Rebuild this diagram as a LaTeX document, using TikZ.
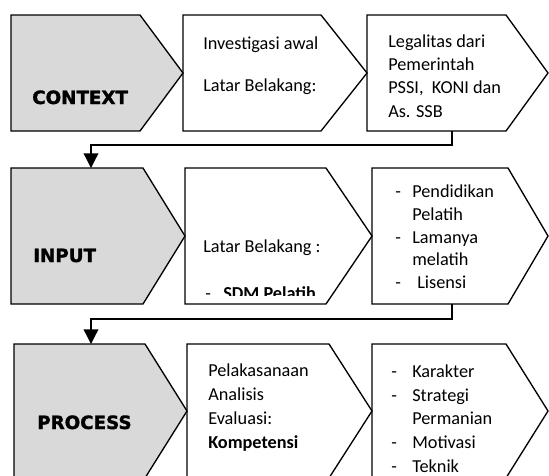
\documentclass[tikz,border=0pt]{standalone}
\usepackage{fontspec}
\setmainfont{Carlito}
\newfontfamily\blackfont{DejaVu Sans}[BoldFeatures={FakeBold=1.6}]
\usetikzlibrary{arrows.meta}
\definecolor{boxgray}{HTML}{D9D9D9}
\begin{document}
\begin{tikzpicture}[x=0.75pt,y=-0.75pt,
  shp/.style={draw=black, line width=1pt, line join=miter},
  grayshp/.style={shp, fill=boxgray},
  txt/.style={inner sep=0pt, anchor=base west, font=\fontsize{13.7}{17.3}\selectfont},
  head/.style={inner sep=0pt, anchor=base west, font=\blackfont\bfseries\fontsize{13.7}{17}\selectfont},
  conn/.style={line width=1pt, -{Triangle[length=11pt,width=11pt]}}]
\useasboundingbox (0,0) rectangle (549,475);
\clip (0,0) rectangle (549,475);
% Row 1
\draw[grayshp] (11,15) -- (140,15) -- (183,73) -- (140,131) -- (11,131) -- cycle;
\draw[shp] (183,15) -- (321,15) -- (367,73) -- (321,131) -- (183,131) -- cycle;
\draw[shp] (367,15) -- (506,15) -- (548,73) -- (506,131) -- (367,131) -- cycle;
\coordinate (r1out) at (452,131);
\coordinate (r1mid) at (452,145);
\coordinate (r2in) at (91,168);
% Row 2
\draw[grayshp] (11,168) -- (143,168) -- (185,236) -- (143,304) -- (11,304) -- cycle;
\draw[shp] (185,168) -- (326,168) -- (372,236) -- (326,304) -- (185,304) -- cycle;
\draw[shp] (372,168) -- (508,168) -- (548,236) -- (508,304) -- (372,304) -- cycle;
\coordinate (r2out) at (452,304);
\coordinate (r2mid) at (452,319);
\coordinate (r3in) at (91,344);
% Row 3
\draw[grayshp] (14,344) -- (145,344) -- (187,411) -- (145,478) -- (14,478) -- cycle;
\draw[shp] (187,344) -- (329,344) -- (372,411) -- (329,478) -- (187,478) -- cycle;
\draw[shp] (372,344) -- (506,344) -- (548,411) -- (506,478) -- (372,478) -- cycle;
% connectors
\draw[conn] (r1out) -- (r1mid) -| (r2in);
\draw[conn] (r2out) -- (r2mid) -| (r3in);
% Row 1 text
\node[head] (context) at (32,104) {CONTEXT};
\node[txt] (t11) at (203,49) {Investigasi awal};
\node[txt] (t12) at (203,91) {Latar Belakang:};
\node[txt] (t21) at (388,47) {Legalitas dari};
\node[txt] (t22) at (388,70.3) {Pemerintah};
\node[txt] (t23) at (388,93.6) {PSSI,\ \ KONI dan};
\node[txt] (t24) at (388,117) {As. SSB};
% Row 2 text
\node[head] (input) at (33,262) {INPUT};
\node[txt] (u11) at (203,252) {Latar Belakang :};
\begin{scope}
\clip (190,270) rectangle (330,295);
\node[txt] (u12a) at (205,299) {-};
\node[txt] (u12b) at (223,299) {\bfseries SDM Pelatih};
\end{scope}
\node[txt] (u21a) at (395,197) {-};
\node[txt] (u21) at (412,197) {Pendidikan};
\node[txt] (u22) at (412,220) {Pelatih};
\node[txt] (u23a) at (395,243) {-};
\node[txt] (u23) at (412,243) {Lamanya};
\node[txt] (u24) at (412,265.5) {melatih};
\node[txt] (u25a) at (395,288) {-};
\node[txt] (u25) at (417,288) {Lisensi};
% Row 3 text
\node[head] (process) at (37,429) {PROCESS};
\node[txt] (p11) at (208,376) {Pelakasanaan};
\node[txt] (p12) at (208,400) {Analisis};
\node[txt] (p13) at (208,424) {Evaluasi:};
\node[txt] (p14) at (208,448) {\bfseries Kompetensi};
\node[txt] (p21a) at (391,377) {-};
\node[txt] (p21) at (412,377) {Karakter};
\node[txt] (p22a) at (391,401) {-};
\node[txt] (p22) at (412,401) {Strategi};
\node[txt] (p23) at (412,424.5) {Permanian};
\node[txt] (p24a) at (391,448) {-};
\node[txt] (p24) at (412,448) {Motivasi};
\node[txt] (p25a) at (391,472) {-};
\node[txt] (p25) at (412,472) {Teknik};
\end{tikzpicture}
\end{document}
